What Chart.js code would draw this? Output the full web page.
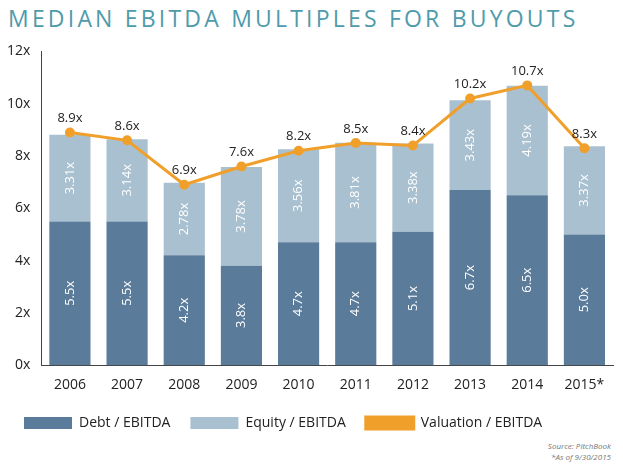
<!DOCTYPE html>
<html lang="en">
<head>
<meta charset="UTF-8">
<title>Median EBITDA Multiples for Buyouts</title>
<script src="https://cdn.jsdelivr.net/npm/chart.js"></script>
<style>
  body { margin: 0; background: #fff; font-family: "Open Sans", sans-serif; }
  #wrap { position: relative; width: 623px; height: 472px; }
  h1 { position: absolute; left: 8px; top: 2px; margin: 0; font-size: 23px; font-weight: 400;
       letter-spacing: 3.2px; color: #4f9bab; }
  #box { position: absolute; left: 0; top: 40px; width: 623px; height: 400px; }
  #src { position: absolute; right: 12px; top: 440px; font-size: 8px; font-style: italic;
         color: #777; text-align: right; line-height: 11px; }
</style>
</head>
<body>
<div id="wrap">
  <h1>MEDIAN EBITDA MULTIPLES FOR BUYOUTS</h1>
  <div id="box"><canvas id="chart"></canvas></div>
  <div id="src">Source: PitchBook<br>*As of 9/30/2015</div>
</div>
<script>
var years = ['2006', '2007', '2008', '2009', '2010', '2011', '2012', '2013', '2014', '2015*'];
var debt = [5.5, 5.5, 4.2, 3.8, 4.7, 4.7, 5.1, 6.7, 6.5, 5.0];
var equity = [3.31, 3.14, 2.78, 3.78, 3.56, 3.81, 3.38, 3.43, 4.19, 3.37];
var valuation = [8.9, 8.6, 6.9, 7.6, 8.2, 8.5, 8.4, 10.2, 10.7, 8.3];

// draws the rotated labels inside bars and the labels over the line
var labelPlugin = {
    id: 'labels',
    afterDatasetsDraw: function (chart) {
        var ctx = chart.ctx;
        ctx.save();
        ctx.fillStyle = '#fff';
        ctx.font = '13px "Open Sans"';
        ctx.textAlign = 'center';
        ctx.textBaseline = 'middle';
        [0, 1].forEach(function (d) {
            chart.getDatasetMeta(d).data.forEach(function (bar, i) {
                var v = chart.data.datasets[d].data[i];
                var y = (bar.y + bar.base) / 2;
                ctx.save();
                ctx.translate(bar.x, y);
                ctx.rotate(-Math.PI / 2);
                ctx.fillText(d === 0 ? v.toFixed(1) + 'x' : v.toFixed(2) + 'x', 0, 0);
                ctx.restore();
            });
        });
        ctx.fillStyle = '#222';
        chart.getDatasetMeta(2).data.forEach(function (pt, i) {
            ctx.fillText(valuation[i].toFixed(1) + 'x', pt.x, pt.y - 14);
        });
        ctx.restore();
    }
};

new Chart(document.getElementById('chart'), {
    data: {
        labels: years,
        datasets: [
            { type: 'bar', label: 'Debt / EBITDA', data: debt, backgroundColor: '#5b7b9a',
              stack: 's', barPercentage: 0.72, categoryPercentage: 1, order: 2 },
            { type: 'bar', label: 'Equity / EBITDA', data: equity, backgroundColor: '#a9c0d0',
              stack: 's', barPercentage: 0.72, categoryPercentage: 1, order: 2 },
            { type: 'line', label: 'Valuation / EBITDA', data: valuation, borderColor: '#f0a02a',
              backgroundColor: '#f0a02a', borderWidth: 3, pointRadius: 3.5, order: 1 }
        ]
    },
    options: {
        responsive: true,
        maintainAspectRatio: false,
        animation: false,
        layout: { padding: { left: 4, right: 10, top: 4 } },
        scales: {
            x: {
                stacked: true,
                grid: { display: false },
                border: { color: '#444' },
                ticks: { color: '#222', font: { size: 14, family: 'Open Sans' } }
            },
            y: {
                stacked: true,
                min: 0, max: 12,
                grid: { display: false },
                border: { color: '#444' },
                ticks: { stepSize: 2, color: '#222', font: { size: 14, family: 'Open Sans' },
                         callback: function (v) { return v + 'x'; } }
            }
        },
        plugins: {
            tooltip: { enabled: false },
            legend: {
                position: 'bottom',
                align: 'start',
                labels: { color: '#222', font: { size: 14, family: 'Open Sans' },
                          boxWidth: 48, boxHeight: 12, padding: 20,
                          sort: function (a, b) { return a.datasetIndex - b.datasetIndex; } }
            }
        }
    },
    plugins: [labelPlugin]
});
</script>
</body>
</html>
